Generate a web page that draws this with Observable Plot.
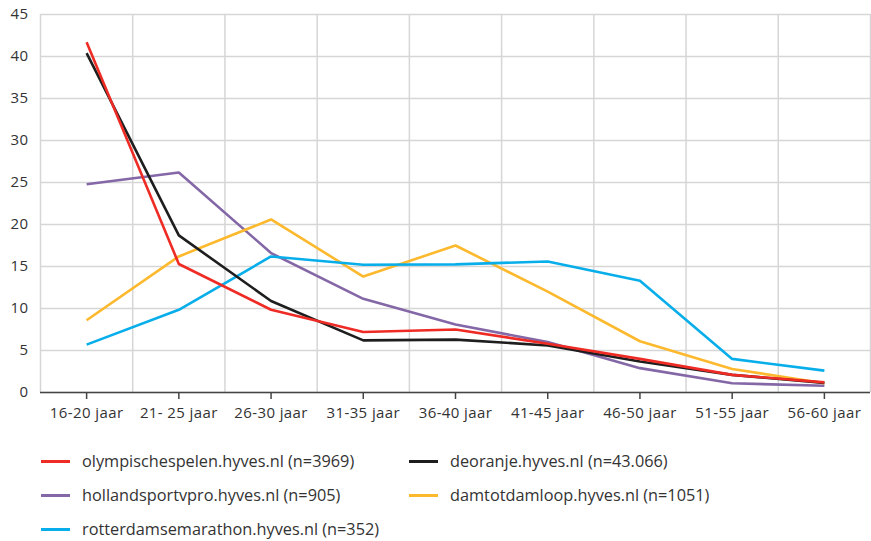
<!DOCTYPE html>
<html>
<head>
<meta charset="utf-8">
<script src="https://cdn.jsdelivr.net/npm/d3@7"></script>
<script src="https://cdn.jsdelivr.net/npm/@observablehq/plot@0.6"></script>
<style>
  body { margin: 0; background: #fff; font-family: "Open Sans", sans-serif; color: #333; }
  #chart { width: 871px; }
  .legend { display: grid; grid-template-columns: 368px auto; grid-auto-rows: 34px; padding-left: 41px; margin-top: 4px; }
  .item { display: flex; align-items: center; font-size: 16.3px; color: #333; }
  .sw { width: 29px; height: 3px; margin-right: 12px; flex: none; }
  svg text { letter-spacing: 0.4px; }
</style>
</head>
<body>
<div id="chart"></div>
<script>
const categories = ["16-20 jaar", "21- 25 jaar", "26-30 jaar", "31-35 jaar", "36-40 jaar", "41-45 jaar", "46-50 jaar", "51-55 jaar", "56-60 jaar"];
const seriesNames = [
  "olympischespelen.hyves.nl (n=3969)",
  "deoranje.hyves.nl (n=43.066)",
  "hollandsportvpro.hyves.nl (n=905)",
  "damtotdamloop.hyves.nl (n=1051)",
  "rotterdamsemarathon.hyves.nl (n=352)"
];
const olympischespelen   = [41.7, 15.3, 9.85, 7.2, 7.5, 5.8, 4.0, 2.1, 1.2];
const deoranje           = [40.4, 18.7, 10.9, 6.2, 6.3, 5.6, 3.7, 2.1, 1.15];
const hollandsportvpro   = [24.8, 26.2, 16.6, 11.15, 8.1, 6.0, 2.9, 1.1, 0.8];
const damtotdamloop      = [8.6, 16.2, 20.6, 13.8, 17.5, 12.0, 6.1, 2.8, 1.1];
const rotterdamsemarathon = [5.7, 9.85, 16.2, 15.2, 15.25, 15.6, 13.3, 4.0, 2.6];
const yTicks = [0, 5, 10, 15, 20, 25, 30, 35, 40, 45];
const colors = ["#ee2b24", "#1e1e1e", "#8467a6", "#fdb92e", "#08aeea"];

const seriesValues = [olympischespelen, deoranje, hollandsportvpro, damtotdamloop, rotterdamsemarathon];
const drawOrder = [2, 3, 4, 1, 0];
const rows = [];
for (const s of drawOrder) {
  seriesValues[s].forEach((v, i) => rows.push({series: seriesNames[s], i, value: v}));
}
const idx = categories.map((_, i) => i);
const edges = d3.range(categories.length + 1).map(i => i - 0.5);

const chart = Plot.plot({
  width: 871,
  height: 440,
  marginTop: 14,
  marginBottom: 48,
  marginLeft: 40,
  marginRight: 1,
  x: {type: "linear", domain: [-0.5, categories.length - 0.5]},
  y: {domain: [0, 45]},
  color: {domain: seriesNames, range: colors},
  style: {fontFamily: "Open Sans, sans-serif", fontSize: "15px", color: "#333", background: "#fff"},
  marks: [
    Plot.gridY(yTicks, {stroke: "#d6d6d6", strokeOpacity: 1, strokeWidth: 1.5}),
    Plot.ruleX(edges, {stroke: "#d6d6d6", strokeOpacity: 1, strokeWidth: 1.5}),
    Plot.axisY(yTicks, {tickSize: 0, tickPadding: 12, fontSize: 15, label: null}),
    Plot.axisX(idx, {tickFormat: i => categories[i], tickSize: 7, tickPadding: 8, fontSize: 15, label: null, stroke: "#444", strokeWidth: 1.5}),
    Plot.ruleY([0], {stroke: "#444", strokeWidth: 1.5}),
    Plot.line(rows, {x: "i", y: "value", z: "series", stroke: "series", strokeWidth: 2.6, strokeLinejoin: "miter", strokeLinecap: "butt"})
  ]
});
document.getElementById("chart").appendChild(chart);

const legend = document.createElement("div");
legend.className = "legend";
seriesNames.forEach((name, s) => {
  const item = document.createElement("div");
  item.className = "item";
  const sw = document.createElement("span");
  sw.className = "sw";
  sw.style.background = colors[s];
  const t = document.createElement("span");
  t.textContent = name;
  item.appendChild(sw);
  item.appendChild(t);
  legend.appendChild(item);
});
document.getElementById("chart").appendChild(legend);
</script>
</body>
</html>
